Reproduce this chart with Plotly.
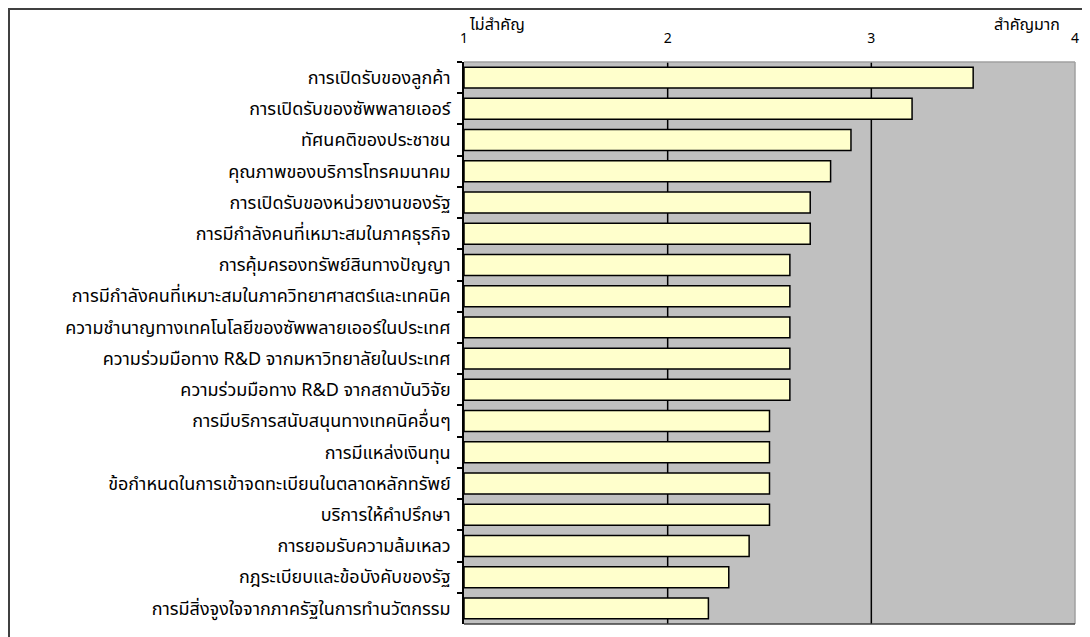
import plotly.graph_objects as go

categories = [
    "การเปิดรับของลูกค้า",
    "การเปิดรับของซัพพลายเออร์",
    "ทัศนคติของประชาชน",
    "คุณภาพของบริการโทรคมนาคม",
    "การเปิดรับของหน่วยงานของรัฐ",
    "การมีกำลังคนที่เหมาะสมในภาคธุรกิจ",
    "การคุ้มครองทรัพย์สินทางปัญญา",
    "การมีกำลังคนที่เหมาะสมในภาควิทยาศาสตร์และเทคนิค",
    "ความชำนาญทางเทคโนโลยีของซัพพลายเออร์ในประเทศ",
    "ความร่วมมือทาง R&D จากมหาวิทยาลัยในประเทศ",
    "ความร่วมมือทาง R&D จากสถาบันวิจัย",
    "การมีบริการสนับสนุนทางเทคนิคอื่นๆ",
    "การมีแหล่งเงินทุน",
    "ข้อกำหนดในการเข้าจดทะเบียนในตลาดหลักทรัพย์",
    "บริการให้คำปรึกษา",
    "การยอมรับความล้มเหลว",
    "กฎระเบียบและข้อบังคับของรัฐ",
    "การมีสิ่งจูงใจจากภาครัฐในการทำนวัตกรรม",
]
values = [3.5, 3.2, 2.9, 2.8, 2.7, 2.7, 2.6, 2.6, 2.6, 2.6, 2.6,
          2.5, 2.5, 2.5, 2.5, 2.4, 2.3, 2.2]
x_ticks = [1, 2, 3, 4]
x_tick_labels = ["1", "2", "3", "4"]
scale_low_label = "ไม่สำคัญ"
scale_high_label = "สำคัญมาก"

FONT = "Tahoma, 'Noto Sans Thai', 'Noto Sans', 'DejaVu Sans', sans-serif"

W, H = 1090, 637
ML, MR, MT, MB = 456, 23, 54, 21
PW, PH = W - ML - MR, H - MT - MB

def px_to_paper_x(px):
    return (px - ML) / PW

def px_to_paper_y(py):
    return 1 - (py - MT) / PH

fig = go.Figure()
fig.add_trace(go.Bar(
    y=categories,
    x=[v - x_ticks[0] for v in values],
    base=x_ticks[0],
    orientation="h",
    marker=dict(color="#FFFFCC", line=dict(color="#000000", width=1.5)),
    hoverinfo="x+y",
))

shapes = []
# interior vertical gridlines (below bars)
for v in x_ticks[1:-1]:
    shapes.append(dict(type="line", xref="x", yref="paper", x0=v, x1=v, y0=0, y1=1,
                       line=dict(color="#000000", width=1.5), layer="below"))
# plot-area frame
shapes.append(dict(type="line", xref="paper", yref="paper", x0=0, x1=1, y0=1, y1=1,
                   line=dict(color="#A0A0A0", width=1.5)))
shapes.append(dict(type="line", xref="paper", yref="paper", x0=1, x1=1, y0=0, y1=1,
                   line=dict(color="#A0A0A0", width=1.5)))
shapes.append(dict(type="line", xref="paper", yref="paper", x0=0, x1=1, y0=0, y1=0,
                   line=dict(color="#404040", width=1.5)))
# outer chart border
shapes.append(dict(type="rect", xref="paper", yref="paper",
                   x0=px_to_paper_x(1), x1=px_to_paper_x(W - 1),
                   y0=px_to_paper_y(H - 1), y1=px_to_paper_y(1),
                   line=dict(color="#404040", width=2)))

annotations = [
    dict(text=scale_low_label, xref="x", yref="paper", x=x_ticks[0], y=1.0, xanchor="left",
         yanchor="bottom", yshift=23, xshift=3, showarrow=False,
         font=dict(family=FONT, size=16, color="#000000")),
    dict(text=scale_high_label, xref="x", yref="paper", x=x_ticks[-1], y=1.0, xanchor="right",
         yanchor="bottom", yshift=23, xshift=-13, showarrow=False,
         font=dict(family=FONT, size=16, color="#000000")),
]

fig.update_layout(
    width=W, height=H,
    margin=dict(l=ML, r=MR, t=MT, b=MB, pad=0),
    paper_bgcolor="#FFFFFF",
    plot_bgcolor="#C0C0C0",
    bargap=0.33,
    showlegend=False,
    shapes=shapes,
    annotations=annotations,
    font=dict(family=FONT, size=13, color="#000000"),
    xaxis=dict(
        side="top", range=[x_ticks[0], x_ticks[-1]], tickvals=x_ticks, ticktext=x_tick_labels,
        showgrid=False, zeroline=False, showline=False, ticks="",
        ticklabelstandoff=15,
        tickfont=dict(family=FONT, size=14, color="#000000"),
        fixedrange=True,
    ),
    yaxis=dict(
        autorange="reversed", showgrid=False, zeroline=False,
        showline=True, linecolor="#000000", linewidth=1.5,
        ticks="outside", tickson="boundaries", ticklen=5, tickcolor="#000000", tickwidth=1.5,
        ticklabelstandoff=8,
        tickfont=dict(family=FONT, size=18, color="#000000"),
        fixedrange=True,
    ),
)

fig.write_html("out.html")
